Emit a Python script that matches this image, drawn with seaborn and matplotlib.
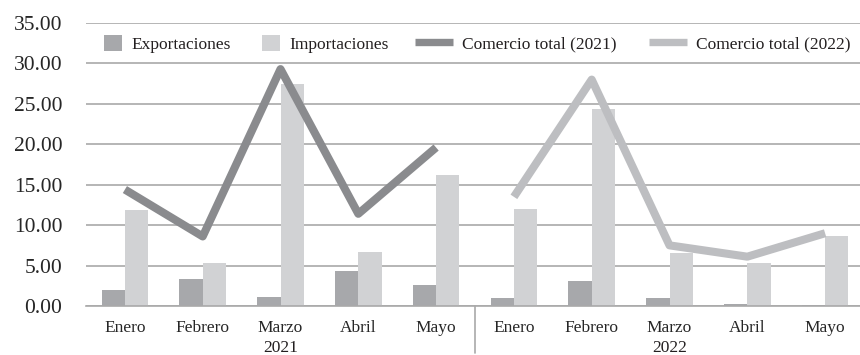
import matplotlib
matplotlib.use("Agg")
import matplotlib.pyplot as plt
from matplotlib.lines import Line2D
from matplotlib.patches import Patch
import seaborn as sns
import pandas as pd

# Monthly trade figures, January-May of 2021 and 2022
months = ["Enero", "Febrero", "Marzo", "Abril", "Mayo"]
years = ["2021", "2022"]
exports_2021 = [2.0, 3.4, 1.1, 4.3, 2.6]
imports_2021 = [11.9, 5.3, 27.4, 6.7, 16.2]
exports_2022 = [1.0, 3.1, 1.0, 0.3, 0.1]
imports_2022 = [12.0, 24.4, 6.5, 5.3, 8.7]
total_2021 = [14.4, 8.6, 29.3, 11.4, 19.6]
total_2022 = [13.5, 28.0, 7.5, 6.1, 9.0]
y_ticks = [0, 5, 10, 15, 20, 25, 30, 35]

c_exp = "#a7a8ab"
c_imp = "#d1d2d4"
c_tot21 = "#8a8b8e"
c_tot22 = "#bdbec1"
grid_c = "#a9a9a9"

sns.set_theme(style="white")
plt.rcParams["font.family"] = ["Liberation Serif", "DejaVu Serif"]
plt.rcParams["text.color"] = "#231f20"

n = len(months)
pos = list(range(2 * n))
bars = pd.DataFrame({
    "pos": pos * 2,
    "serie": ["Exportaciones"] * (2 * n) + ["Importaciones"] * (2 * n),
    "valor": exports_2021 + exports_2022 + imports_2021 + imports_2022,
})
lines21 = pd.DataFrame({"pos": pos[:n], "valor": total_2021})
lines22 = pd.DataFrame({"pos": pos[n:], "valor": total_2022})

fig = plt.figure(figsize=(8.6, 3.55), dpi=100)
ax = fig.add_axes([86 / 860, 49 / 355, 778 / 860, 283 / 355])

sns.barplot(data=bars, x="pos", y="valor", hue="serie",
            palette=[c_exp, c_imp], width=0.6, gap=0, saturation=1,
            linewidth=0, legend=False, ax=ax, zorder=2)
sns.lineplot(data=lines21, x="pos", y="valor", color=c_tot21, lw=5.8,
             sort=False, ax=ax, zorder=3, solid_capstyle="butt")
sns.lineplot(data=lines22, x="pos", y="valor", color=c_tot22, lw=5.8,
             sort=False, ax=ax, zorder=3, solid_capstyle="butt")

ax.set_xlim(-0.5, 2 * n - 0.5)
ax.set_ylim(0, 35)
ax.set_yticks(y_ticks)
ax.set_yticklabels([f"{v:.2f}" for v in y_ticks], fontsize=15.5)
ax.set_xticks(pos)
ax.set_xticklabels(months * 2, fontsize=12.5)
ax.tick_params(axis="y", length=0, pad=17)
ax.tick_params(axis="x", length=0, pad=10)
ax.set_xlabel("")
ax.set_ylabel("")
ax.yaxis.grid(True, color=grid_c, lw=1.2, zorder=0)
ax.set_axisbelow(True)
for side in ["top", "right", "left"]:
    ax.spines[side].set_visible(False)
ax.spines["bottom"].set_color(grid_c)
ax.spines["bottom"].set_linewidth(1.2)

# Year labels and separator under the month labels
trans = ax.get_xaxis_transform()
for i, yr in enumerate(years):
    ax.text(i * n + (n - 1) / 2, -0.148, yr, transform=trans,
            ha="center", va="center", fontsize=12.5)
ax.plot([n - 0.5, n - 0.5], [0, -0.165], transform=trans, color=grid_c,
        lw=1.2, clip_on=False)

# Legend: square swatches for the bars, short thick strokes for the lines
bar_handles = [Patch(facecolor=c_exp, lw=0), Patch(facecolor=c_imp, lw=0)]
line_handles = [Line2D([], [], color=c_tot21, lw=5.3, solid_capstyle="butt"),
                Line2D([], [], color=c_tot22, lw=5.3, solid_capstyle="butt")]
leg1 = ax.legend(bar_handles, ["Exportaciones", "Importaciones"], ncol=2,
                 frameon=False, loc="center left", borderpad=0,
                 borderaxespad=0, bbox_to_anchor=(0.0231, 0.925),
                 fontsize=12.5, handlelength=1.04, handleheight=1.04,
                 columnspacing=1.84, handletextpad=0.52)
ax.add_artist(leg1)
ax.legend(line_handles, ["Comercio total (2021)", "Comercio total (2022)"],
          ncol=2, frameon=False, loc="center left", borderpad=0,
          borderaxespad=0, bbox_to_anchor=(0.4229, 0.925), fontsize=12.5,
          handlelength=2.19, columnspacing=1.84, handletextpad=0.52)

fig.savefig("out.png", dpi=100)
